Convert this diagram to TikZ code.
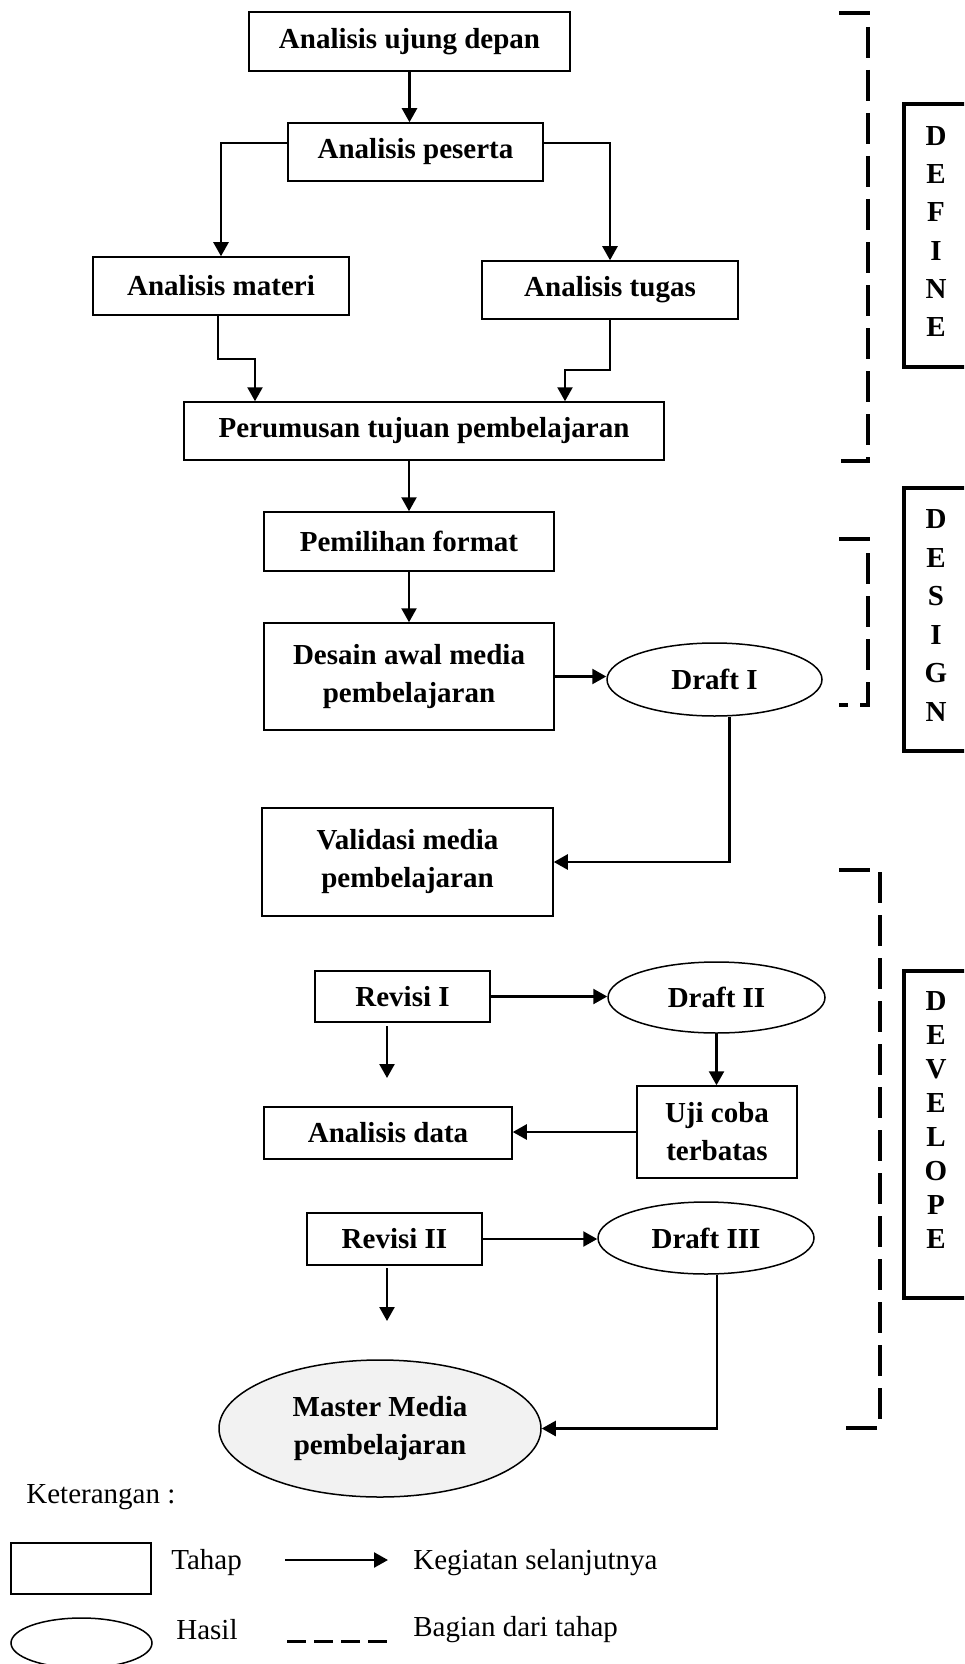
\documentclass[tikz,border=0pt]{standalone}
\usepackage{fontspec}
\setmainfont{Liberation Serif}
\usetikzlibrary{arrows.meta,shapes.geometric}
\definecolor{abu}{RGB}{242,242,242}

\begin{document}
\begin{tikzpicture}[x=0.5pt,y=-0.5pt,
    every node/.style={font=\fontsize{14.5}{19}\selectfont},
    tahap/.style={draw,line width=0.75pt,inner sep=0pt,align=center,
      font=\bfseries\fontsize{14.5}{19}\selectfont},
    hasil/.style={tahap,ellipse},
    alur/.style={line width=1.2pt,-{Triangle[length=7pt,width=7.5pt]}},
    bagian/.style={line width=2pt,dash pattern=on 15.5pt off 6pt},
    fase/.style={draw,line width=1.6pt,minimum width=32pt,inner sep=0pt},
    huruf/.style={align=center,inner sep=0pt},
    teks/.style={anchor=west,inner sep=0pt}]
  \useasboundingbox (0,0) rectangle (964,1664);
  \clip (0,0) rectangle (964,1664);

  \node[tahap,minimum width=160.5pt,minimum height=29.5pt] (ujung) at (409.5,41.5) {Analisis ujung depan};
  \node[tahap,minimum width=127.5pt,minimum height=29pt] (peserta) at (415.5,152) {Analisis peserta};
  \node[tahap,minimum width=128pt,minimum height=29pt] (materi) at (221,286) {Analisis materi};
  \node[tahap,minimum width=128pt,minimum height=29pt] (tugas) at (610,290) {Analisis tugas};
  \node[tahap,minimum width=240pt,minimum height=29pt] (rumus) at (424,431) {Perumusan tujuan pembelajaran};
  \node[tahap,minimum width=145pt,minimum height=29.5pt] (format) at (409,541.5) {Pemilihan format};
  \node[tahap,minimum width=145pt,minimum height=53.5pt] (desain) at (409,676.5) {Desain awal media\\pembelajaran};
  \node[hasil,minimum width=107.5pt,minimum height=36.5pt] (draftA) at (714.5,679.5) {Draft I};
  \node[tahap,minimum width=145.5pt,minimum height=54pt] (validasi) at (407.5,862) {Validasi media\\pembelajaran};
  \node[tahap,minimum width=87.5pt,minimum height=25.5pt] (revisiA) at (402.5,996.5) {Revisi I};
  \node[hasil,minimum width=108.5pt,minimum height=35.5pt] (draftB) at (716.5,997.5) {Draft II};
  \node[tahap,minimum width=80pt,minimum height=46pt] (uji) at (717,1132) {Uji coba\\terbatas};
  \node[tahap,minimum width=124pt,minimum height=26pt] (data) at (388,1133) {Analisis data};
  \node[tahap,minimum width=87.5pt,minimum height=26pt] (revisiB) at (394.5,1239) {Revisi II};
  \node[hasil,minimum width=108pt,minimum height=36pt] (draftC) at (706,1238) {Draft III};
  \node[hasil,fill=abu,minimum width=161pt,minimum height=68.5pt] (master) at (380,1428.5) {Master Media\\pembelajaran};

  \draw[alur] (ujung.south) -- (ujung.south |- peserta.north);
  \draw[alur] ([yshift=4.5pt]peserta.west) -| (materi.north);
  \draw[alur] ([yshift=4.5pt]peserta.east) -| (tugas.north);
  \coordinate (mbelok) at (255,359);
  \draw[alur] ([xshift=-1.5pt]materi.south) |- (mbelok) -- (mbelok |- rumus.north);
  \coordinate (tbelok) at (565,370);
  \draw[alur] (tugas.south) |- (tbelok) -- (tbelok |- rumus.north);
  \draw[alur] (format.north |- rumus.south) -- (format.north);
  \draw[alur] (format.south) -- (desain.north);
  \draw[alur] (desain.east) -- (desain.east -| draftA.west);
  \draw[alur] ([xshift=7.5pt]draftA.south) |- (validasi.east);
  \draw[alur] (revisiA.east) -- (revisiA.east -| draftB.west);
  \coordinate (rA1) at (387,1026);
  \coordinate (rA2) at (387,1078);
  \draw[alur] (rA1) -- (rA2);
  \draw[alur] (draftB.south) -- (draftB.south |- uji.north);
  \draw[alur] (uji.west) -- (uji.west -| data.east);
  \draw[alur] (revisiB.east) -- (revisiB.east -| draftC.west);
  \coordinate (rB1) at (387,1268);
  \coordinate (rB2) at (387,1321);
  \draw[alur] (rB1) -- (rB2);
  \draw[alur] ([xshift=5.5pt]draftC.south) |- (master.east);

  \draw[bagian] (839,13) -- (868,13) -- (868,461) -- (839,461);
  \draw[bagian] (839,539) -- (868,539) -- (868,705) -- (839,705);
  \draw[bagian] (839,870) -- (880,870) -- (880,1428) -- (839,1428);

  \node[fase,minimum height=131.5pt] (defbox) at (936,235.5) {};
  \node[huruf,font=\bfseries\fontsize{14.5}{19.1}\selectfont] (define) at (936,231.5) {D\\E\\F\\I\\N\\E};
  \node[fase,minimum height=131.5pt] (desbox) at (936,619.5) {};
  \node[huruf,font=\bfseries\fontsize{14.5}{19.3}\selectfont] (design) at (936,615.5) {D\\E\\S\\I\\G\\N};
  \node[fase,minimum height=163.5pt] (devbox) at (936,1134.5) {};
  \node[huruf,font=\bfseries\fontsize{14.5}{17}\selectfont] (develope) at (936,1119.5) {D\\E\\V\\E\\L\\O\\P\\E};

  \node[teks] (ket) at (26,1497) {Keterangan :};
  \node[tahap,minimum width=70pt,minimum height=25.5pt] (legtahap) at (81,1568.5) {};
  \node[teks] (kettahap) at (171,1563) {Tahap};
  \coordinate (la1) at (285,1560);
  \coordinate (la2) at (388,1560);
  \draw[alur] (la1) -- (la2);
  \node[teks] (kegiatan) at (413,1563) {Kegiatan selanjutnya};
  \node[hasil,minimum width=70.5pt,minimum height=25pt] (leghasil) at (81.5,1643) {};
  \node[teks] (kethasil) at (176,1630) {Hasil};
  \coordinate (lb1) at (287,1641);
  \coordinate (lb2) at (388,1641);
  \draw[line width=1.5pt,dash pattern=on 9.5pt off 4pt] (lb1) -- (lb2);
  \node[teks] (bagiantahap) at (413,1630) {Bagian dari tahap};
\end{tikzpicture}
\end{document}
